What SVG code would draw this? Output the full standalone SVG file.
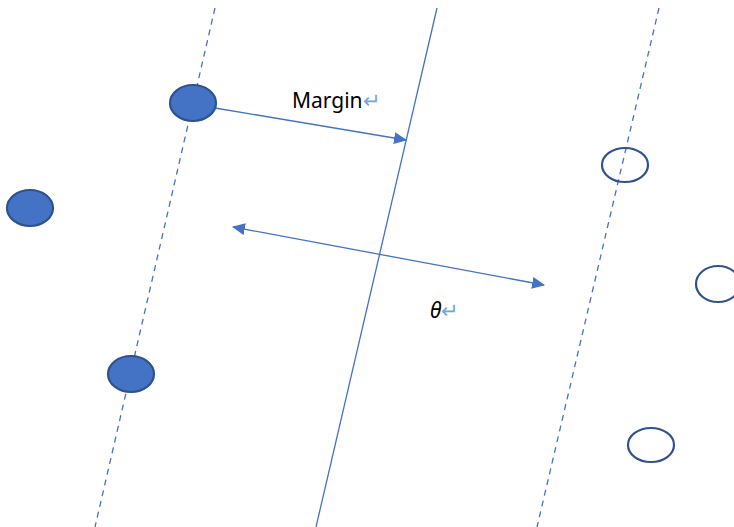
<svg xmlns="http://www.w3.org/2000/svg" width="734" height="527" viewBox="0 0 734 527">
<style>
.ln{stroke:#4472C4;stroke-width:1.3;fill:none}
.dash{stroke-dasharray:6 5}
.pos{fill:#4472C4;stroke:#2F528F;stroke-width:2.2}
.neg{fill:none;stroke:#2F528F;stroke-width:2.2}
.t{font-family:"Noto Sans","Liberation Sans",sans-serif;font-size:21px;fill:#000}
.r{fill:#6FA8E0}
</style>
<defs>
<marker id="ah" viewBox="0 0 12 11" refX="11" refY="5.5" markerWidth="13" markerHeight="12" markerUnits="userSpaceOnUse" orient="auto-start-reverse">
<path d="M0,0 L12,5.5 L0,11 Z" fill="#4472C4"/>
</marker>
</defs>
<rect width="734" height="527" fill="#fff"/>
<g id="connectors">
<line class="ln" x1="437" y1="8" x2="316" y2="527"/>
<line class="ln dash" x1="215" y1="8" x2="95" y2="527"/>
<line class="ln dash" x1="659" y1="8" x2="537" y2="527"/>
<line class="ln" x1="215" y1="108" x2="406" y2="140" marker-end="url(#ah)"/>
<line class="ln" x1="233" y1="227" x2="544" y2="285" marker-start="url(#ah)" marker-end="url(#ah)"/>
</g>
<g id="p1"><ellipse class="pos" cx="193" cy="103" rx="23" ry="18"/></g>
<g id="p2"><ellipse class="pos" cx="30" cy="208" rx="23" ry="18"/></g>
<g id="p3"><ellipse class="pos" cx="131" cy="374" rx="23" ry="18"/></g>
<g id="n1"><ellipse class="neg" cx="625" cy="165" rx="23" ry="17"/></g>
<g id="n2"><ellipse class="neg" cx="718" cy="284" rx="22" ry="18"/></g>
<g id="n3"><ellipse class="neg" cx="651" cy="445" rx="23" ry="17"/></g>
<g id="label-margin"><text class="t" x="292" y="108">Margin<tspan class="r">↵</tspan></text></g>
<g id="label-theta"><text class="t" x="430" y="318" font-style="italic">θ<tspan class="r" font-style="normal">↵</tspan></text></g>
</svg>
